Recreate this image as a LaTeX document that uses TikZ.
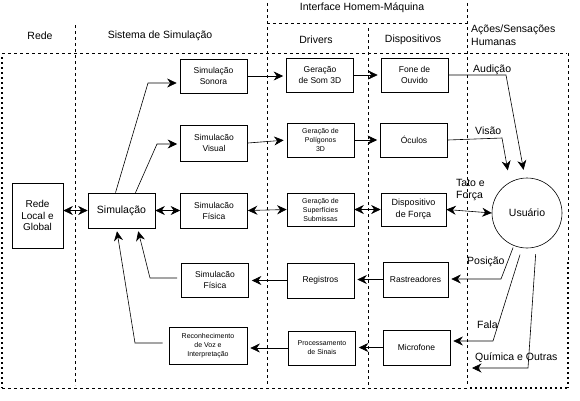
\documentclass[tikz,border=0pt]{standalone}
\usepackage{fontspec}
\setmainfont{Liberation Sans}
\usetikzlibrary{arrows.meta, calc}

\begin{document}
\begin{tikzpicture}[x=1pt, y=-1pt,
    box/.style={rectangle, draw, line width=0.7pt, align=center, minimum width=67pt, minimum height=34pt, inner sep=1pt, font=\fontsize{8.5}{11}\selectfont},
    smallbox/.style={box, font=\fontsize{7}{9}\selectfont},
    big/.style={font=\fontsize{10.5}{12}\selectfont},
    arrow/.style={-{Stealth[length=9.5pt, width=9pt]}, line width=0.6pt, shorten >=3pt},
    darrow/.style={{Stealth[length=9.5pt, width=9pt]}-{Stealth[length=9.5pt, width=9pt]}, line width=0.6pt},
    sep/.style={line width=0.7pt, dash pattern=on 2.5pt off 3.5pt},
    border/.style={line width=2pt, dash pattern=on 2pt off 3pt},
  ]
  \useasboundingbox (0,0) rectangle (580,400);

  \draw[sep] (2,53) -- (567,53);
  \draw[border] (2,57) -- (2,388);
  \draw[sep] (2,388) -- (467,388);
  \draw[border] (470,388) -- (568,388);
  \draw[sep] (568,53) -- (568,260);
  \draw[border] (568,262) -- (568,388);
  \draw[sep] (75,25) -- (75,385);
  \draw[sep] (267,3) -- (267,385);
  \draw[sep] (368,28) -- (368,385);
  \draw[sep] (467,3) -- (467,385);
  \draw[sep] (267,23) -- (467,23);

  \node[big] (hRede) at (40,36) {Rede};
  \node[big] (hSis) at (160,36) {Sistema de Simulação};
  \node[big] (hIhm) at (362,8) {Interface Homem-Máquina};
  \node[big] (hDrv) at (316,40) {Drivers};
  \node[big] (hDisp) at (413,40) {Dispositivos};
  \node[big, anchor=west, align=left, inner sep=0pt, font=\fontsize{10.5}{12.5}\selectfont] (hAcoes) at (471,35) {Ações/Sensações\\Humanas};

  \node[box, big, minimum width=51pt, minimum height=65pt, font=\fontsize{10}{11.7}\selectfont] (rede) at (37.5,215.5) {Rede\\Local e\\Global};
  \node[box, font=\fontsize{10.5}{12}\selectfont, minimum height=35pt] (sim) at (121.5,210.5) {Simulação};

  \node[box] (sonora) at (213.5,76) {Simulação\\Sonora};
  \node[box, minimum height=36pt] (visual) at (214,143) {Simulacão\\Visual};
  \node[box, minimum height=35pt] (fisicaA) at (214,210.5) {Simulacão\\Física};
  \node[box] (fisicaB) at (215,280) {Simulacão\\Física};
  \node[smallbox, minimum width=78pt, minimum height=37pt] (reconh) at (208,345.5) {Reconhecimento\\de Voz e\\Interpretação};

  \node[box] (somTd) at (320,75) {Geração\\de Som 3D};
  \node[smallbox] (polig) at (320.5,140) {Geração de\\Polígonos\\3D};
  \node[smallbox, minimum height=33pt] (superf) at (320.5,209.5) {Geração de\\Superfícies\\Submissas};
  \node[box, minimum height=35pt] (regist) at (320.5,280.5) {Registros};
  \node[smallbox] (proc) at (322,348) {Processamento\\de Sinais};

  \node[box] (fone) at (414.5,75) {Fone de\\Ouvido};
  \node[box] (oculos) at (414,140) {Óculos};
  \node[box, minimum width=65pt, minimum height=33pt, font=\fontsize{9}{12}\selectfont] (dispF) at (413.5,209.5) {Dispositivo\\de Força};
  \node[box, minimum width=65pt, minimum height=35pt] (rastr) at (415.5,279.5) {Rastreadores};
  \node[box, minimum height=35pt] (micro) at (416.5,347.5) {Microfone};

  \node[circle, draw, line width=0.6pt, minimum size=70pt, inner sep=0pt, big] (usuario) at (527,213) {Usuário};

  \node[big, anchor=west, inner sep=0pt] (lAud) at (473,70) {Audição};
  \node[big, anchor=west, inner sep=0pt] (lVis) at (475,131) {Visão};
  \node[big, anchor=west, align=left, inner sep=0pt, font=\fontsize{10.5}{12}\selectfont] (lTato) at (456,190) {Tato e\\Força};
  \node[big, anchor=west, inner sep=0pt] (lPos) at (467,262) {Posição};
  \node[big, anchor=west, inner sep=0pt] (lFala) at (477,325) {Fala};
  \node[big, anchor=west, inner sep=0pt] (lQuim) at (475,358) {Química e Outras};

  \coordinate (kSon) at (148,83);
  \coordinate (kVis) at (157,144);
  \coordinate (kFis) at (150,278);
  \coordinate (kRec) at (135,343);
  \coordinate (kAud) at (506,75);
  \coordinate (kVisao) at (502,138);
  \coordinate (kPos) at (501,279);
  \coordinate (kFala) at (493,341);
  \coordinate (kQuim) at (528,368);
  \coordinate (qEnd) at (472,368);

  \draw[darrow] (rede.east |- sim.west) -- (sim.west);
  \draw[arrow] ([xshift=-6pt]sim.north) -- (kSon) -- (kSon -| sonora.west);
  \draw[arrow] ([xshift=14pt]sim.north) -- (kVis) -- (kVis -| visual.west);
  \draw[darrow] (sim.east) -- (fisicaA.west);
  \draw[arrow, shorten <=4pt] (fisicaB.west |- kFis) -- (kFis) -- ([xshift=16pt]sim.south);
  \draw[arrow, shorten <=6pt] (reconh.west |- kRec) -- (kRec) -- ([xshift=-5pt]sim.south);

  \draw[arrow] (sonora.east) -- (sonora.east -| somTd.west);
  \draw[arrow] (somTd.east) -- (fone.west);
  \draw[arrow] (visual.east) -- (polig.west);
  \draw[arrow] (polig.east) -- (oculos.west);
  \draw[darrow] (fisicaA.east) -- (superf.west);
  \draw[darrow] (superf.east) -- (dispF.west);
  \draw[darrow] (dispF.east) -- (usuario.west);

  \draw[arrow, shorten >=8pt] (fone.east) -- (kAud) -- ([xshift=-2pt]usuario.north);
  \draw[arrow, shorten >=12pt] (oculos.east) -- (kVisao) -- (usuario.119);

  \draw[arrow, shorten <=2pt] (usuario.248) -- (kPos) -- (kPos -| rastr.east);
  \draw[arrow, shorten <=7pt] (usuario.262) -- (kFala) -- (kFala -| micro.east);
  \draw[arrow, shorten <=7pt, shorten >=0pt] (usuario.285) -- (kQuim) -- (qEnd);

  \draw[arrow] (rastr.west) -- (rastr.west -| regist.east);
  \draw[arrow] (regist.west) -- (regist.west -| fisicaB.east);
  \draw[arrow] (micro.west) -- (micro.west -| proc.east);
  \draw[arrow] (proc.west) -- (proc.west -| reconh.east);
\end{tikzpicture}
\end{document}
